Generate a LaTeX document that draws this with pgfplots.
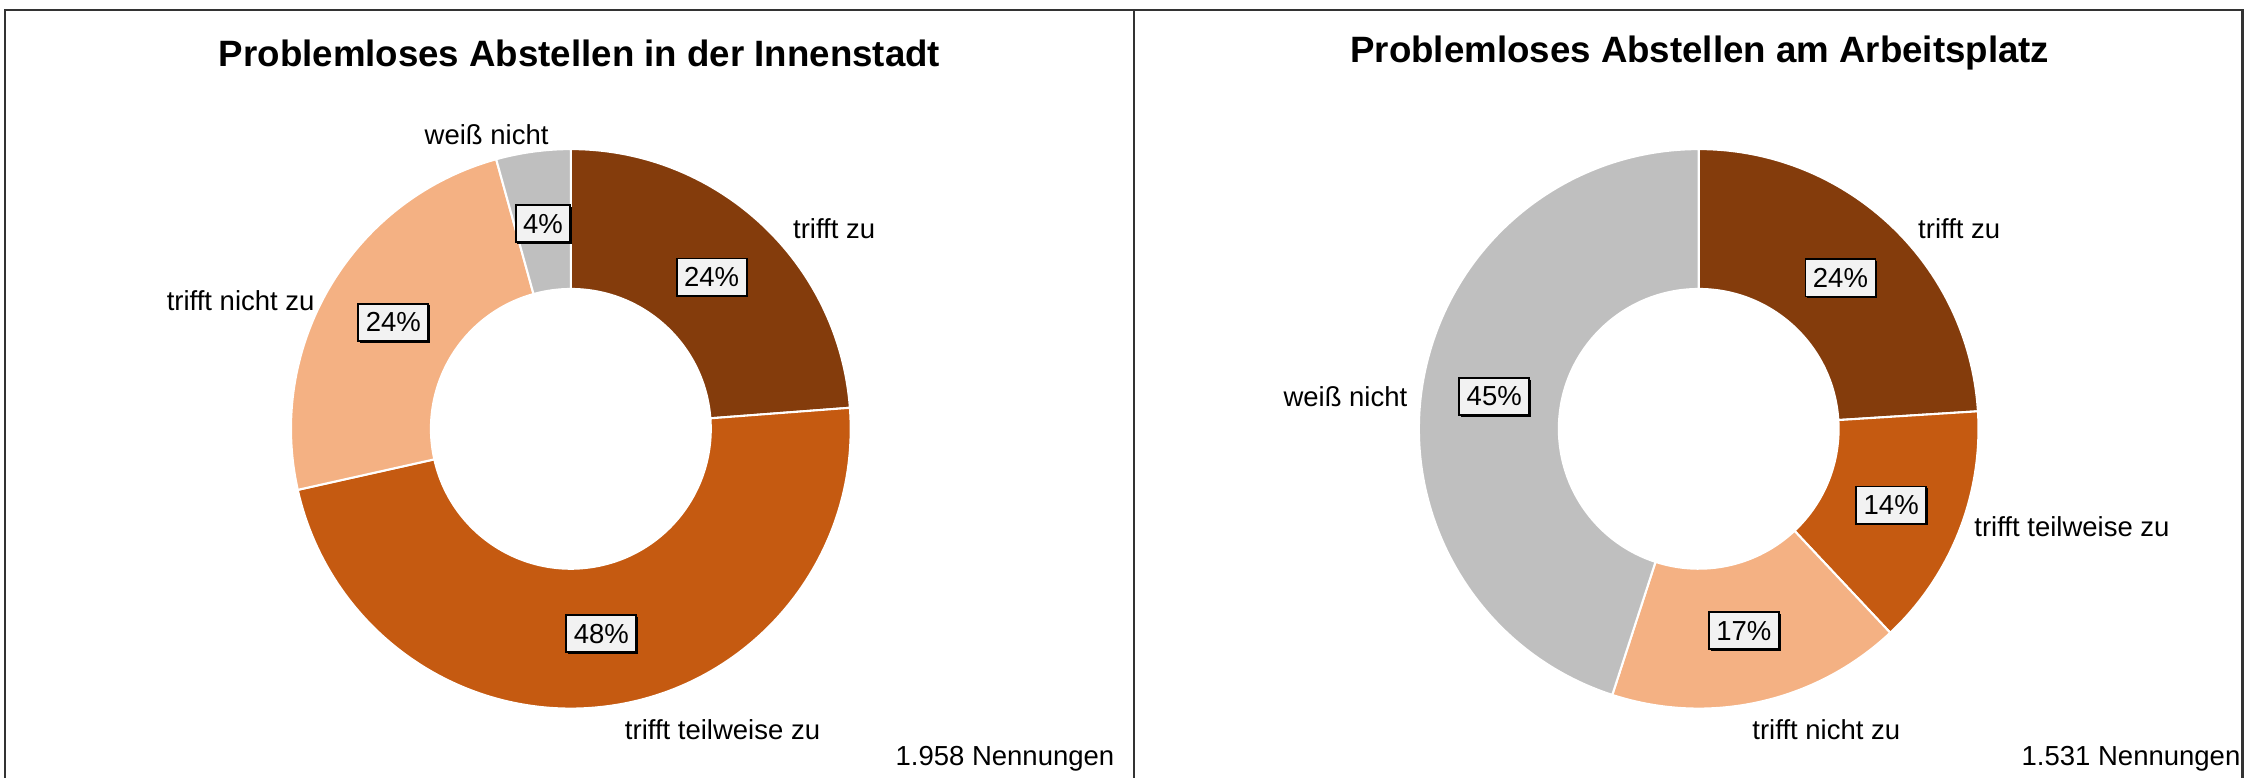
\documentclass[border=0pt]{standalone}
\usepackage{fontspec}
\setmainfont{Liberation Sans}
\usepackage{pgfplots}
\usepackage{pgfplotstable}
\pgfplotsset{compat=1.18}
\usetikzlibrary{shadows}
\definecolor{c0}{HTML}{843C0C}
\definecolor{c1}{HTML}{C55A11}
\definecolor{c2}{HTML}{F4B183}
\definecolor{c3}{HTML}{BFBFBF}
\definecolor{boxfill}{HTML}{F2F2F2}

\pgfplotstableread[col sep=comma]{
label,value
trifft zu,23.8
trifft teilweise zu,47.7
trifft nicht zu,24.2
weiß nicht,4.3
}\innen
\pgfplotstableread[col sep=comma]{
label,value
trifft zu,24
trifft teilweise zu,14
trifft nicht zu,17
weiß nicht,45
}\arbeit

\tikzset{
  pct/.style={fill=boxfill, draw=black, line width=0.45pt, inner xsep=1.8pt, inner ysep=1.2pt,
    minimum height=8.9pt, font=\fontsize{6.6}{8}\selectfont,
    drop shadow={shadow xshift=0.4pt, shadow yshift=-0.4pt, fill=black, opacity=1}},
  lbl/.style={font=\fontsize{6.6}{8}\selectfont, inner sep=0pt},
  ttl/.style={font=\fontsize{8.8}{10}\selectfont\bfseries, inner sep=0pt},
}

\newcommand\donut[1]{%
  \xdef\cum{0}%
  \pgfplotsinvokeforeach{0,...,3}{%
    \pgfplotstablegetelem{##1}{value}\of#1%
    \let\vraw\pgfplotsretval
    \pgfmathsetmacro\aS{90-3.6*\cum}%
    \pgfmathsetmacro\aE{90-3.6*(\cum+\vraw)}%
    \pgfmathsetmacro\xo{cos(\aS)}%
    \pgfmathsetmacro\yo{sin(\aS)}%
    \pgfmathsetmacro\xin{0.5*cos(\aE)}%
    \pgfmathsetmacro\yin{0.5*sin(\aE)}%
    \edef\cmd{\noexpand\fill[c##1, draw=white, line width=0.5pt] (axis cs:\xo,\yo) arc[start angle=\aS, end angle=\aE, radius=1] -- (axis cs:\xin,\yin) arc[start angle=\aE, end angle=\aS, radius=0.5] -- cycle;}%
    \cmd
    \pgfmathsetmacro\tmp{\cum+\vraw}%
    \xdef\cum{\tmp}%
  }%
  \xdef\cum{0}%
  \pgfplotsinvokeforeach{0,...,3}{%
    \pgfplotstablegetelem{##1}{value}\of#1%
    \let\vraw\pgfplotsretval
    \pgfmathtruncatemacro\vr{round(\vraw)}%
    \pgfmathsetmacro\aM{90-3.6*(\cum+0.5*\vraw)}%
    \pgfmathsetmacro\xm{0.74*cos(\aM)}%
    \pgfmathsetmacro\ym{0.74*sin(\aM)}%
    \edef\cmd{\noexpand\node[pct] at (axis cs:\xm,\ym) {\vr\noexpand\%};}%
    \cmd
    \pgfmathsetmacro\tmp{\cum+\vraw}%
    \xdef\cum{\tmp}%
  }%
}

\begin{document}
\begin{tikzpicture}
\useasboundingbox (0,0) rectangle (538.56pt,186.72pt);
% frame
\draw[line width=0.5pt, black!80] (1.2pt,0) -- (1.2pt,184.3pt) -- (538.2pt,184.3pt) -- (538.2pt,0);
\draw[line width=0.5pt, black!80] (272.2pt,0) -- (272.2pt,184.3pt);

\begin{axis}[at={(0pt,0pt)}, anchor=south west, scale only axis,
  width=272.2pt, height=186.72pt, hide axis, clip=false,
  xmin=-2.040, xmax=2.013, ymin=-1.248, ymax=1.533]
\donut{\innen}
\node[ttl] at (axis cs:0.031,1.343) {Problemloses Abstellen in der Innenstadt};
\node[lbl] at (axis cs:-0.301,1.051) {weiß nicht};
\node[lbl] at (axis cs:0.941,0.715) {trifft zu};
\node[lbl] at (axis cs:-1.180,0.459) {trifft nicht zu};
\node[lbl] at (axis cs:0.542,-1.077) {trifft teilweise zu};
\node[lbl, anchor=east] at (axis cs:1.945,-1.178) {1.958 Nennungen};
\end{axis}

\begin{axis}[at={(272.2pt,0pt)}, anchor=south west, scale only axis,
  width=266.36pt, height=186.72pt, hide axis, clip=false,
  xmin=-2.018, xmax=1.949, ymin=-1.248, ymax=1.533]
\donut{\arbeit}
\node[ttl] at (axis cs:0.004,1.343) {Problemloses Abstellen am Arbeitsplatz};
\node[lbl] at (axis cs:0.931,0.715) {trifft zu};
\node[lbl] at (axis cs:-1.263,0.116) {weiß nicht};
\node[lbl] at (axis cs:1.334,-0.350) {trifft teilweise zu};
\node[lbl] at (axis cs:0.456,-1.077) {trifft nicht zu};
\node[lbl, anchor=east] at (axis cs:1.939,-1.178) {1.531 Nennungen};
\end{axis}
\end{tikzpicture}
\end{document}
